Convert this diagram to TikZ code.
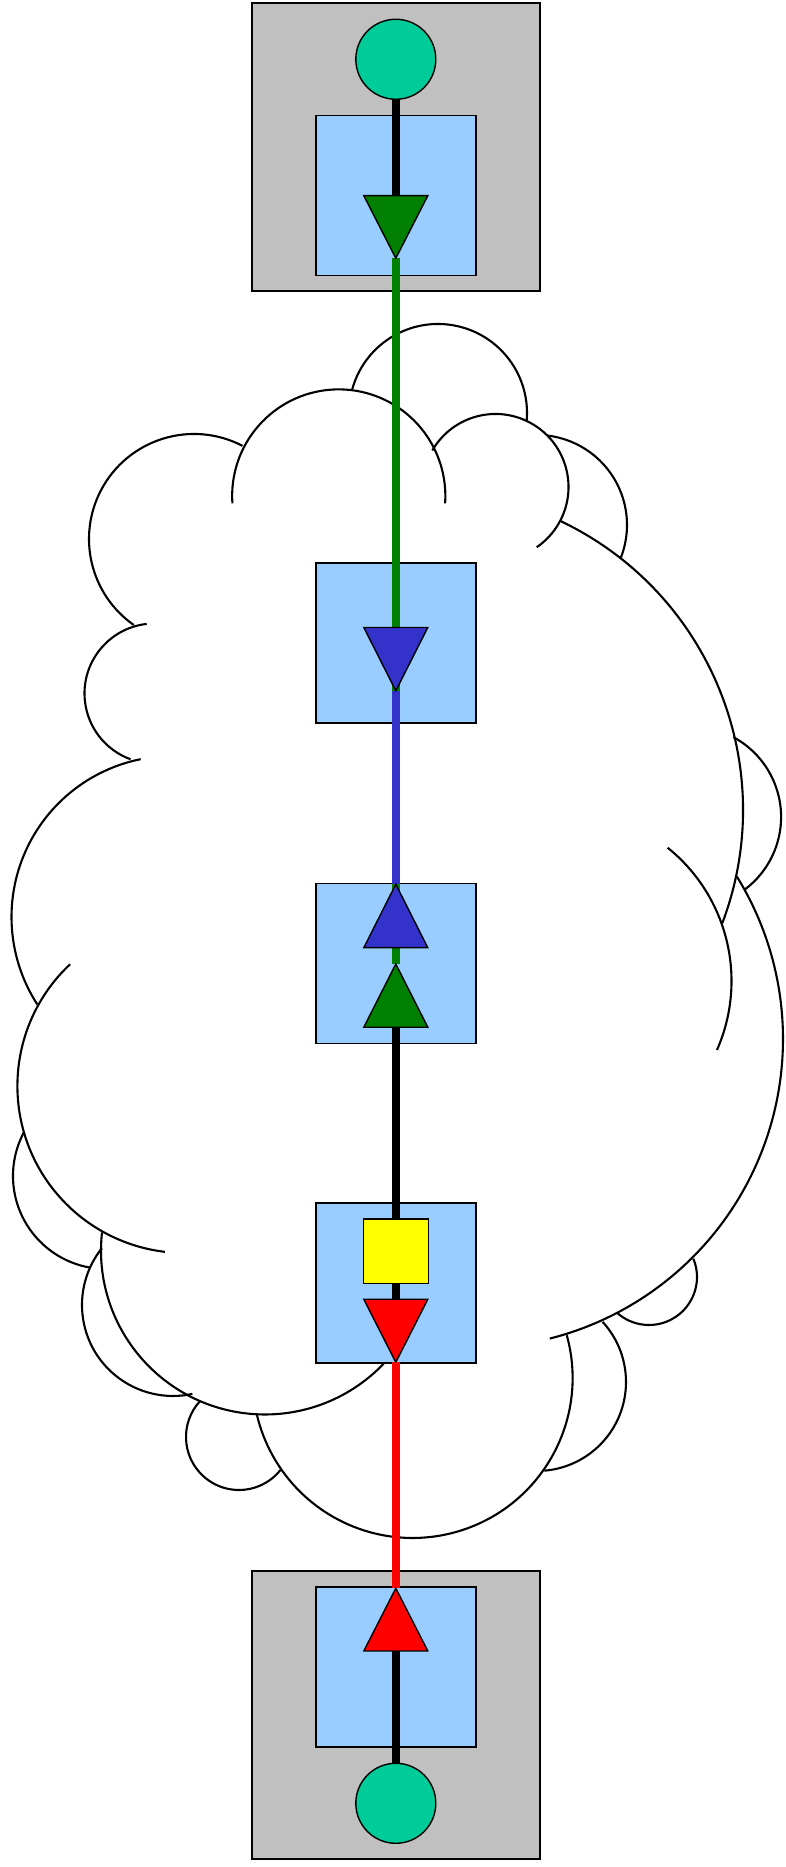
\documentclass[tikz,border=0pt]{standalone}
\definecolor{grayc}{HTML}{C0C0C0}
\definecolor{bluec}{HTML}{99CCFF}
\definecolor{tealc}{HTML}{00CC99}
\definecolor{greenc}{HTML}{008000}
\definecolor{bluetri}{HTML}{3333CC}
\definecolor{redc}{HTML}{FF0000}
\definecolor{yellowc}{HTML}{FFFF00}
\newcommand{\cloudarc}[5]{\draw[cloudline] (#1,#2) ++(#4:#3pt) arc[start angle=#4, end angle=#5, radius=#3pt];}
\newcommand{\mytri}[3]{\filldraw[tri, fill=#3] (#1) ++(-32,0) -- ++(64,0) -- (#2) -- cycle;}
\begin{document}
\begin{tikzpicture}[x=1pt,y=1pt,
  cloudline/.style={line width=2.1pt, black},
  graybox/.style={rectangle, draw=black, line width=1.4pt, fill=grayc, minimum width=288pt, minimum height=288pt, inner sep=0pt},
  bluebox/.style={rectangle, draw=black, line width=1.4pt, fill=bluec, minimum width=160pt, minimum height=160pt, inner sep=0pt},
  port/.style={circle, draw=black, line width=1.4pt, fill=tealc, minimum size=80pt, inner sep=0pt},
  sq/.style={rectangle, draw=black, line width=1.4pt, fill=yellowc, minimum width=65pt, minimum height=64.7pt, inner sep=0pt},
  link/.style={line width=8pt},
  tri/.style={draw=black, line width=1.4pt, line join=miter}]
\fill[white] (0,0) rectangle (785,1867);
\useasboundingbox (0,0) rectangle (785,1867);
% cloud
\cloudarc{194}{1328}{105}{62.5}{235}
\cloudarc{338.75}{1371}{106.6}{184}{-4}
\cloudarc{438}{1454}{89}{164.4}{-5}
\cloudarc{495.5}{1380}{73}{150}{-55.6}
\cloudarc{537}{1342}{90}{83.4}{-21.8}
\cloudarc{423}{1057}{320}{64.5}{-20.7}
\cloudarc{690.5}{1050}{90.6}{61.8}{-53}
\cloudarc{560.5}{886}{171}{51.2}{-23.8}
\cloudarc{474}{828}{309}{31.7}{-75.8}
\cloudarc{649}{590}{48}{22.4}{-130.7}
\cloudarc{537}{485}{89}{42.5}{-85.3}
\cloudarc{412.6}{489}{160}{15.5}{-167}
\cloudarc{239}{430}{53}{137.4}{321.5}
\cloudarc{173}{562}{91}{141.4}{282.3}
\cloudarc{265}{616.5}{164}{173.7}{316.3}
\cloudarc{106}{691}{93}{152}{260}
\cloudarc{184.4}{781}{167}{133.2}{263.3}
\cloudarc{172.5}{950}{161}{101.4}{212.9}
\cloudarc{154.5}{1173.5}{70}{96.4}{250}
% boxes
\node[graybox] (gtop) at (395.8,1719.85) {};
\node[bluebox] (btop) at (395.8,1671.65) {};
\node[port] (ctop) at (395.8,1807.7) {};
\node[bluebox] (b2) at (395.8,1223.85) {};
\node[bluebox] (b3) at (395.8,903.7) {};
\node[bluebox] (b4) at (395.8,584) {};
\node[graybox] (gbot) at (395.8,151.85) {};
\node[bluebox] (bbot) at (395.8,200) {};
\node[port] (cbot) at (395.8,63.7) {};
% triangle anchor points
\coordinate (g1b) at (395.8,1671.3); \coordinate (g1a) at (395.8,1608.7);
\coordinate (b2b) at (395.8,1239.5); \coordinate (b2a) at (395.8,1176.2);
\coordinate (b3a) at (395.8,982.7);  \coordinate (b3b) at (395.8,919.3);
\coordinate (g3a) at (395.8,903);    \coordinate (g3b) at (395.8,839.7);
\coordinate (r4b) at (395.8,567.7);  \coordinate (r4a) at (395.8,504.7);
\coordinate (r5a) at (395.8,278.7);  \coordinate (r5b) at (395.8,216);
% links
\draw[link] (ctop.south) -- (g1b);
\draw[link, greenc] (g1a) -- (g3a);
\draw[link, bluetri] (b2a) -- (b3a);
\draw[link] (g3b) -- (r4b);
\draw[link, redc] (r4a) -- (r5a);
\draw[link] (r5b) -- (cbot.north);
% yellow square
\node[sq] (y4) at (395.8,615.65) {};
% triangles
\mytri{g1b}{g1a}{greenc}
\mytri{b2b}{b2a}{bluetri}
\mytri{b3b}{b3a}{bluetri}
\mytri{g3b}{g3a}{greenc}
\mytri{r4b}{r4a}{redc}
\mytri{r5b}{r5a}{redc}
\end{tikzpicture}
\end{document}
